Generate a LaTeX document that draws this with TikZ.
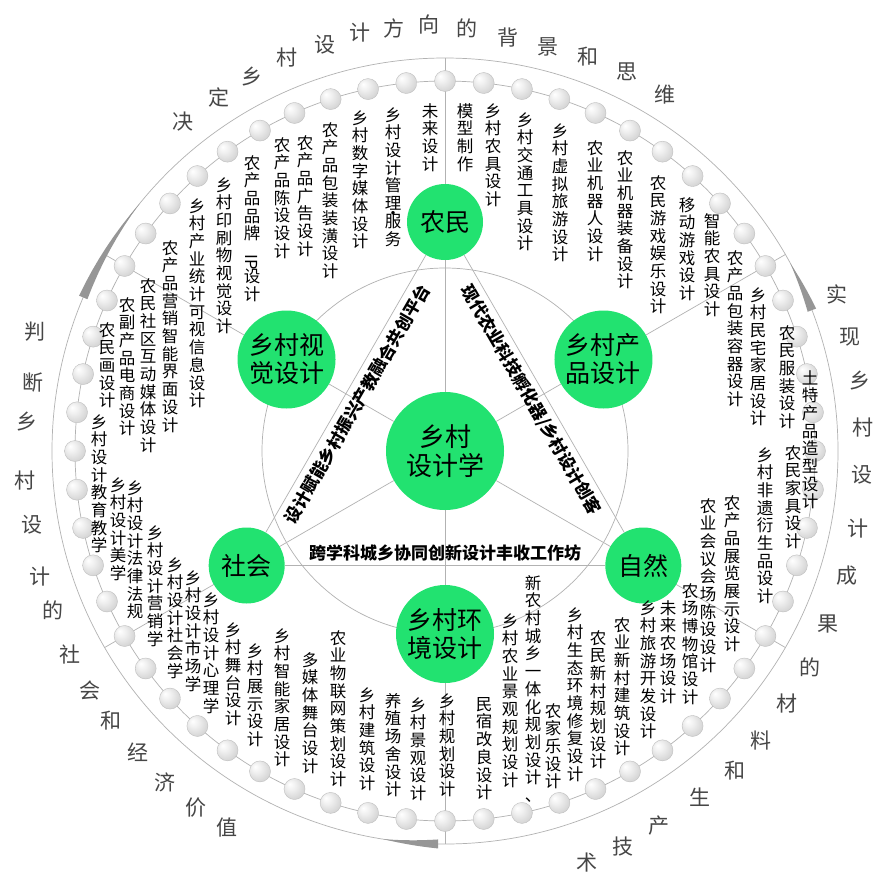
\documentclass[tikz,border=0pt]{standalone}
\usepackage{fontspec}
\setmainfont{Noto Sans CJK SC}
\usetikzlibrary{calc}
\XeTeXlinebreaklocale "zh"
\XeTeXlinebreakskip=0pt plus 1pt
\setlength{\parindent}{0pt}
\definecolor{cgreen}{RGB}{34,226,112}
\definecolor{linec}{RGB}{178,178,178}
\definecolor{outc}{RGB}{70,70,70}
\definecolor{wedgec}{RGB}{150,150,150}
\pgfdeclarelayer{bg}
\pgfsetlayers{bg,main}
\pgfdeclareradialshading{beadsh}{\pgfpoint{-12bp}{12bp}}{color(0bp)=(white); color(12bp)=(white!94!black); color(32bp)=(white!82!black); color(50bp)=(white!66!black)}
\tikzset{
 ring/.style={draw=linec, line width=0.7pt},
 lbl/.style={anchor=north, inner sep=0pt, text width=17pt, align=center, font=\fontsize{16.5}{17.7}\selectfont},
 gcirc/.style={circle, fill=cgreen, inner sep=0pt, align=center, font=\fontsize{25}{28}\selectfont},
 etxt/.style={inner sep=0pt, font=\fontsize{17}{17}\selectfont\bfseries},
 otxt/.style={inner sep=0pt, text=outc, font=\fontsize{21}{21}\selectfont},
 bead/.style={shading=beadsh, draw=gray!50, line width=0.4pt},
}
\begin{document}
\begin{tikzpicture}[x=1pt,y=-1pt]
\useasboundingbox (0,0) rectangle (885,880);
\coordinate (C) at (445,451);
\begin{pgfonlayer}{bg}
\fill[white] (0,0) rectangle (885,880);
\draw[ring] (C) circle (393pt);
\draw[ring] (C) circle (370pt);
\draw[ring] (C) circle (183pt);
\end{pgfonlayer}
\foreach \a in {30,90,150,210,270,330} \coordinate (o\a) at ($(C)+({-\a}:393)$);
% wedges on the outer circle
\begin{scope}[shift={(C)}]
\fill[wedgec] plot[domain=0:1, samples=9] ({-(141+16*\x)}:{393+4.5*\x}) -- plot[domain=1:0, samples=9] ({-(141+16*\x)}:{393-4.5*\x}) -- cycle;
\fill[wedgec] plot[domain=0:1, samples=9] ({-(28.5-7.5*\x)}:{393+4.5*\x}) -- plot[domain=1:0, samples=9] ({-(28.5-7.5*\x)}:{393-4.5*\x}) -- cycle;
\fill[wedgec] plot[domain=0:1, samples=9] ({-(261+8*\x)}:{393+4.5*\x}) -- plot[domain=1:0, samples=9] ({-(261+8*\x)}:{393-4.5*\x}) -- cycle;
\end{scope}
% beads
\foreach \k in {0,...,59} \shadedraw[bead] ($(C)+({-(90+6*\k)}:370)$) circle (10.5pt);
% circles
\node[gcirc, minimum size=118pt, font=\fontsize{26}{29}\selectfont] (ct) at (C) {乡村\\设计学};
\node[gcirc, minimum size=76pt] (nm) at ($(C)+(-90:229)$) {农民};
\node[gcirc, minimum size=76pt] (sh) at ($(C)+(-210:229)$) {社会};
\node[gcirc, minimum size=76pt] (zr) at ($(C)+(-330:229)$) {自然};
\node[gcirc, minimum size=98pt] (vis) at ($(C)+(-150:183)$) {乡村视\\觉设计};
\node[gcirc, minimum size=98pt] (prd) at ($(C)+(-30:183)$) {乡村产\\品设计};
\node[gcirc, minimum size=98pt] (env) at ($(C)+(-270:183)$) {乡村环\\境设计};
\begin{pgfonlayer}{bg}
\foreach \a in {30,90,150,210,270,330} \draw[ring] (ct) -- (o\a);
\draw[ring] (nm) -- (sh);
\draw[ring] (sh) -- (zr);
\draw[ring] (zr) -- (nm);
\end{pgfonlayer}
% edge texts
\node[etxt, rotate=60] (e1) at (357,404) {设计赋能乡村振兴产教融合共创平台};
\node[etxt, rotate=-60] (e2) at (531,400) {现代农业科技孵化器/乡村设计创客};
\node[etxt] (e3) at (445,553) {跨学科城乡协同创新设计丰收工作坊};
% outer texts
\foreach \c/\x/\y [count=\i] in {决/183/122,定/219/97,乡/252/77,村/287/58,设/325/45,计/360/33,方/394/28,向/429/25,的/467/28,背/508/38,景/548/47,和/588/57,思/627/72,维/665/95}
  \node[otxt] (ta\i) at (\x,\y) {\c};
\foreach \c/\x/\y [count=\i] in {判/35/332,断/33/383,乡/27/422,村/25/481,设/32/525,计/40/577,的/53/610,社/70/654,会/90/690,和/111/721,经/138/752,济/165/782,价/196/808,值/227/828}
  \node[otxt] (tb\i) at (\x,\y) {\c};
\foreach \c/\x/\y [count=\i] in {实/837/294,现/850/337,乡/860/381,村/863/428,设/862/475,计/858/529,成/847/576,果/828/624,的/810/667,材/787/703,料/761/740,和/735/771,生/700/797,产/659/826,技/623/847,术/587/863}
  \node[otxt] (tc\i) at (\x,\y) {\c};
% labels
\foreach \x/\y/\t [count=\i] in {
 197/198/乡村产业统计可视信息设计,
 224/177/乡村印刷物视觉设计,
 282/137/农产品陈设设计,
 305/135/农产品广告设计,
 330/122/农产品包装装潢设计,
 360/110/乡村数字媒体设计,
 430/103/未来设计,
 465/103/模型制作,
 493/103/乡村农具设计,
 525/112/乡村交通工具设计,
 560/123/乡村虚拟旅游设计,
 595/140/农业机器人设计,
 625/150/农业机器装备设计,
 658/175/农民游戏娱乐设计,
 687/197/移动游戏设计,
 712/213/智能农具设计,
 735/250/农产品包装容器设计,
 758/287/乡村民宅家居设计,
 787/325/农民服装设计,
 810/370/土特产品造型设计,
 793/445/农民家具设计,
 765/447/乡村非遗衍生品设计,
 732/495/农产品展览展示设计,
 708/498/农业会议会场陈设设计,
 690/583/农场博物馆设计,
 668/600/未来农场设计,
 648/600/乡村旅游开发设计,
 622/617/农业新村建筑设计,
 598/630/农民新村规划设计,
 575/607/乡村生态环境修复设计,
 553/703/农家乐设计,
 510/613/乡村农业景观规划设计,
 484/697/民宿改良设计,
 447/693/乡村规划设计,
 418/697/乡村景观设计,
 393/693/养殖场舍设计,
 367/687/乡村建筑设计,
 338/630/农业物联网策划设计,
 310/652/多媒体舞台设计,
 282/628/乡村智能家居设计,
 255/643/乡村展示设计,
 233/622/乡村舞台设计,
 211/592/乡村设计心理学,
 193/570/乡村设计市场学,
 175/557/乡村设计社会学,
 155/525/乡村设计营销学,
 135/480/乡村设计法律法规,
 118/477/乡村设计美学,
 99/414/乡村设计教育教学,
 107/322/农民画设计,
 127/297/农副产品电商设计,
 148/278/农民社区互动媒体设计,
 170/240/农产品营销智能界面设计}
  \node[lbl] (L\i) at (\x,\y) {\t};
\node[lbl] (LIP) at (252,155) {农产品品牌\\[-3pt]\rotatebox{-90}{IP}\\[-2pt]设计};
\node[lbl] (Lsv) at (393,107) {乡村设计管理\\[-8pt]·\\[-9.5pt]服务};
\node[lbl] (Lxn) at (533,575) {新农村城乡一体化规划设计\\、};
\end{tikzpicture}
\end{document}
